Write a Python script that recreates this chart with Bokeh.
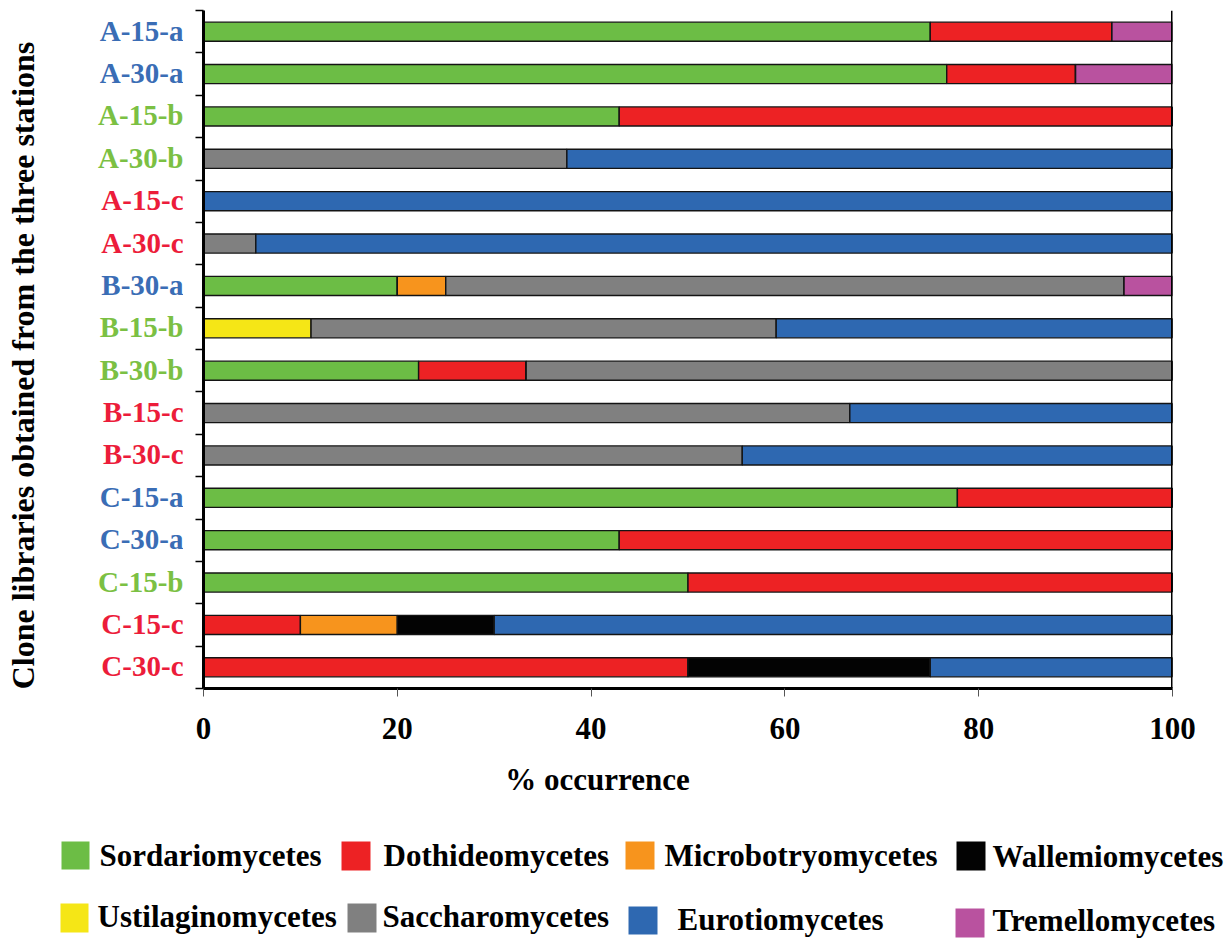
import math
from bokeh.plotting import figure
from bokeh.models import ColumnDataSource, FixedTicker, Span, Range1d
from bokeh.layouts import column, row
from bokeh.embed import file_html
from bokeh.resources import INLINE
from bokeh.core.properties import value

# ---------------- data ----------------
libraries = ["A-15-a", "A-30-a", "A-15-b", "A-30-b", "A-15-c", "A-30-c",
             "B-30-a", "B-15-b", "B-30-b", "B-15-c", "B-30-c",
             "C-15-a", "C-30-a", "C-15-b", "C-15-c", "C-30-c"]
label_colors = ["#3a6db5", "#3a6db5", "#7bc043", "#7bc043", "#ec1c3a", "#ec1c3a",
                "#3a6db5", "#7bc043", "#7bc043", "#ec1c3a", "#ec1c3a",
                "#3a6db5", "#3a6db5", "#7bc043", "#ec1c3a", "#ec1c3a"]

classes = ["Sordariomycetes", "Dothideomycetes", "Microbotryomycetes", "Wallemiomycetes",
           "Ustilaginomycetes", "Saccharomycetes", "Eurotiomycetes", "Tremellomycetes"]
class_colors = ["#6cbd45", "#ed2224", "#f7941d", "#030303",
                "#f5e616", "#808080", "#2e68b1", "#b9529f"]

sordariomycetes    = [75.0, 76.7, 42.9, 0, 0, 0, 20.0, 0, 22.2, 0, 0, 77.8, 42.9, 50.0, 0, 0]
dothideomycetes    = [18.75, 13.3, 57.1, 0, 0, 0, 0, 0, 11.1, 0, 0, 22.2, 57.1, 50.0, 10.0, 50.0]
microbotryomycetes = [0, 0, 0, 0, 0, 0, 5.0, 0, 0, 0, 0, 0, 0, 0, 10.0, 0]
wallemiomycetes    = [0, 0, 0, 0, 0, 0, 0, 0, 0, 0, 0, 0, 0, 0, 10.0, 25.0]
ustilaginomycetes  = [0, 0, 0, 0, 0, 0, 0, 11.1, 0, 0, 0, 0, 0, 0, 0, 0]
saccharomycetes    = [0, 0, 0, 37.5, 0, 5.4, 70.0, 48.0, 66.7, 66.7, 55.6, 0, 0, 0, 0, 0]
eurotiomycetes     = [0, 0, 0, 62.5, 100.0, 94.6, 0, 40.9, 0, 33.3, 44.4, 0, 0, 0, 70.0, 25.0]
tremellomycetes    = [6.25, 10.0, 0, 0, 0, 0, 5.0, 0, 0, 0, 0, 0, 0, 0, 0, 0]

x_ticks = [0, 20, 40, 60, 80, 100]
x_title = "% occurrence"
y_title = "Clone libraries obtained from the three stations"

# ---------------- layout constants (page pixels) ----------------
FONT = "Liberation Serif"
TOTAL_W, TOTAL_H = 1229, 939
FRAME_L, FRAME_R, FRAME_T, FRAME_B = 203, 1172, 10, 688
LABEL_W = 183          # width of the left label panel
TOP_H = 750            # height of the chart row

series = [sordariomycetes, dothideomycetes, microbotryomycetes, wallemiomycetes,
          ustilaginomycetes, saccharomycetes, eurotiomycetes, tremellomycetes]
n = len(libraries)
ypos = [n - 1 - i for i in range(n)]  # first library at top

data = {"y": ypos, "lib": libraries}
for name, vals in zip(classes, series):
    data[name] = vals
src = ColumnDataSource(data)

yr = Range1d(-0.5, n - 0.5)

# ---------------- main chart ----------------
pw = TOTAL_W - LABEL_W
p = figure(width=pw, height=TOP_H, output_backend="svg", toolbar_location=None,
           x_range=Range1d(0, 100), y_range=yr,
           min_border_left=FRAME_L - LABEL_W, min_border_right=TOTAL_W - FRAME_R,
           min_border_top=FRAME_T, min_border_bottom=TOP_H - FRAME_B)
p.frame_align = False
p.title.visible = False
p.outline_line_color = None
p.xgrid.visible = False
p.ygrid.visible = False

p.hbar_stack(classes, y="y", height=0.45, color=class_colors, line_color="#141414",
             line_width=1.4, source=src)

p.add_layout(Span(location=100, dimension="height", line_color="black", line_width=3))

xa = p.xaxis[0]
xa.ticker = FixedTicker(ticks=x_ticks)
xa.axis_line_width = 3
xa.axis_line_color = "black"
xa.major_tick_in = 0
xa.major_tick_out = 8
xa.major_tick_line_color = "#555555"
xa.major_tick_line_width = 1
xa.minor_tick_out = 0
xa.minor_tick_in = 0
xa.major_label_standoff = 21
xa.major_label_text_font = FONT
xa.major_label_text_font_style = "bold"
xa.major_label_text_font_size = "31px"
xa.major_label_text_color = "black"

ya = p.yaxis[0]
ya.ticker = FixedTicker(ticks=[], minor_ticks=[i - 0.5 for i in range(n + 1)])
ya.axis_line_width = 3
ya.axis_line_color = "black"
ya.minor_tick_in = 0
ya.minor_tick_out = 8
ya.minor_tick_line_color = "black"
ya.minor_tick_line_width = 1.5
ya.major_tick_in = 0
ya.major_tick_out = 0
ya.major_label_standoff = 0

# ---------------- left panel: coloured library labels + y title ----------------
lf = figure(width=LABEL_W, height=TOP_H, output_backend="svg", toolbar_location=None,
            x_range=Range1d(0, LABEL_W), y_range=yr,
            min_border_left=0, min_border_right=0,
            min_border_top=FRAME_T, min_border_bottom=TOP_H - FRAME_B,
            x_axis_type=None, y_axis_type=None)
lf.frame_align = False
lf.title.visible = False
lf.outline_line_color = None
lf.xgrid.visible = False
lf.ygrid.visible = False

lab_src = ColumnDataSource({"x": [LABEL_W] * n, "y": ypos, "text": libraries, "c": label_colors})
lf.text(x="x", y="y", text="text", text_color="c", source=lab_src,
        text_align="right", text_baseline="middle", y_offset=-1,
        text_font=value(FONT), text_font_style="bold", text_font_size=value("29px"))

band_px = (FRAME_B - FRAME_T) / n
title_y = (n - 0.5) - (365 - FRAME_T) / band_px
lf.text(x=[22], y=[title_y], text=[y_title], angle=math.pi / 2,
        text_align="center", text_baseline="middle", text_color="black",
        text_font=value(FONT), text_font_style="bold", text_font_size=value("32px"))

# ---------------- bottom: x title + legend ----------------
LH = TOTAL_H - TOP_H
q = figure(width=TOTAL_W, height=LH, output_backend="svg", toolbar_location=None,
           x_range=Range1d(0, TOTAL_W), y_range=Range1d(LH, 0),
           min_border=0, min_border_left=0, min_border_right=0,
           min_border_top=0, min_border_bottom=0,
           x_axis_type=None, y_axis_type=None)
q.frame_align = False
q.title.visible = False
q.outline_line_color = None
q.xgrid.visible = False
q.ygrid.visible = False

OY = TOP_H
# (left, top, right, bottom, text_x, text_middle) of each legend slot, page pixels
slots = [(61, 841, 89, 869, 99, 855), (341, 841, 370, 870, 383, 855),
         (625, 841, 654, 869, 664, 855), (956, 841, 985, 870, 992, 856),
         (60, 903, 88, 932, 97, 916), (347, 903, 376, 932, 382, 916),
         (628, 906, 657, 934, 677, 919), (955, 908, 984, 937, 992, 920)]
leg = ColumnDataSource({
    "l": [s[0] for s in slots], "t": [s[1] - OY for s in slots],
    "r": [s[2] for s in slots], "b": [s[3] - OY for s in slots],
    "tx": [s[4] for s in slots], "ty": [s[5] - OY for s in slots],
    "name": classes, "color": class_colors})
q.quad(left="l", right="r", top="t", bottom="b", fill_color="color", line_color=None, source=leg)
q.text(x="tx", y="ty", text="name", source=leg, text_font=value(FONT), text_font_style="bold",
       text_font_size=value("31px"), text_color="black", text_baseline="middle",
       text_align="left")

q.text(x=[597], y=[779 - OY], text=[x_title], text_font=value(FONT), text_font_style="bold",
       text_font_size=value("31px"), text_color="black", text_baseline="middle",
       text_align="center")

layout = column(row(lf, p, spacing=0), q, spacing=0)
open("out.html", "w").write(file_html(layout, INLINE))
